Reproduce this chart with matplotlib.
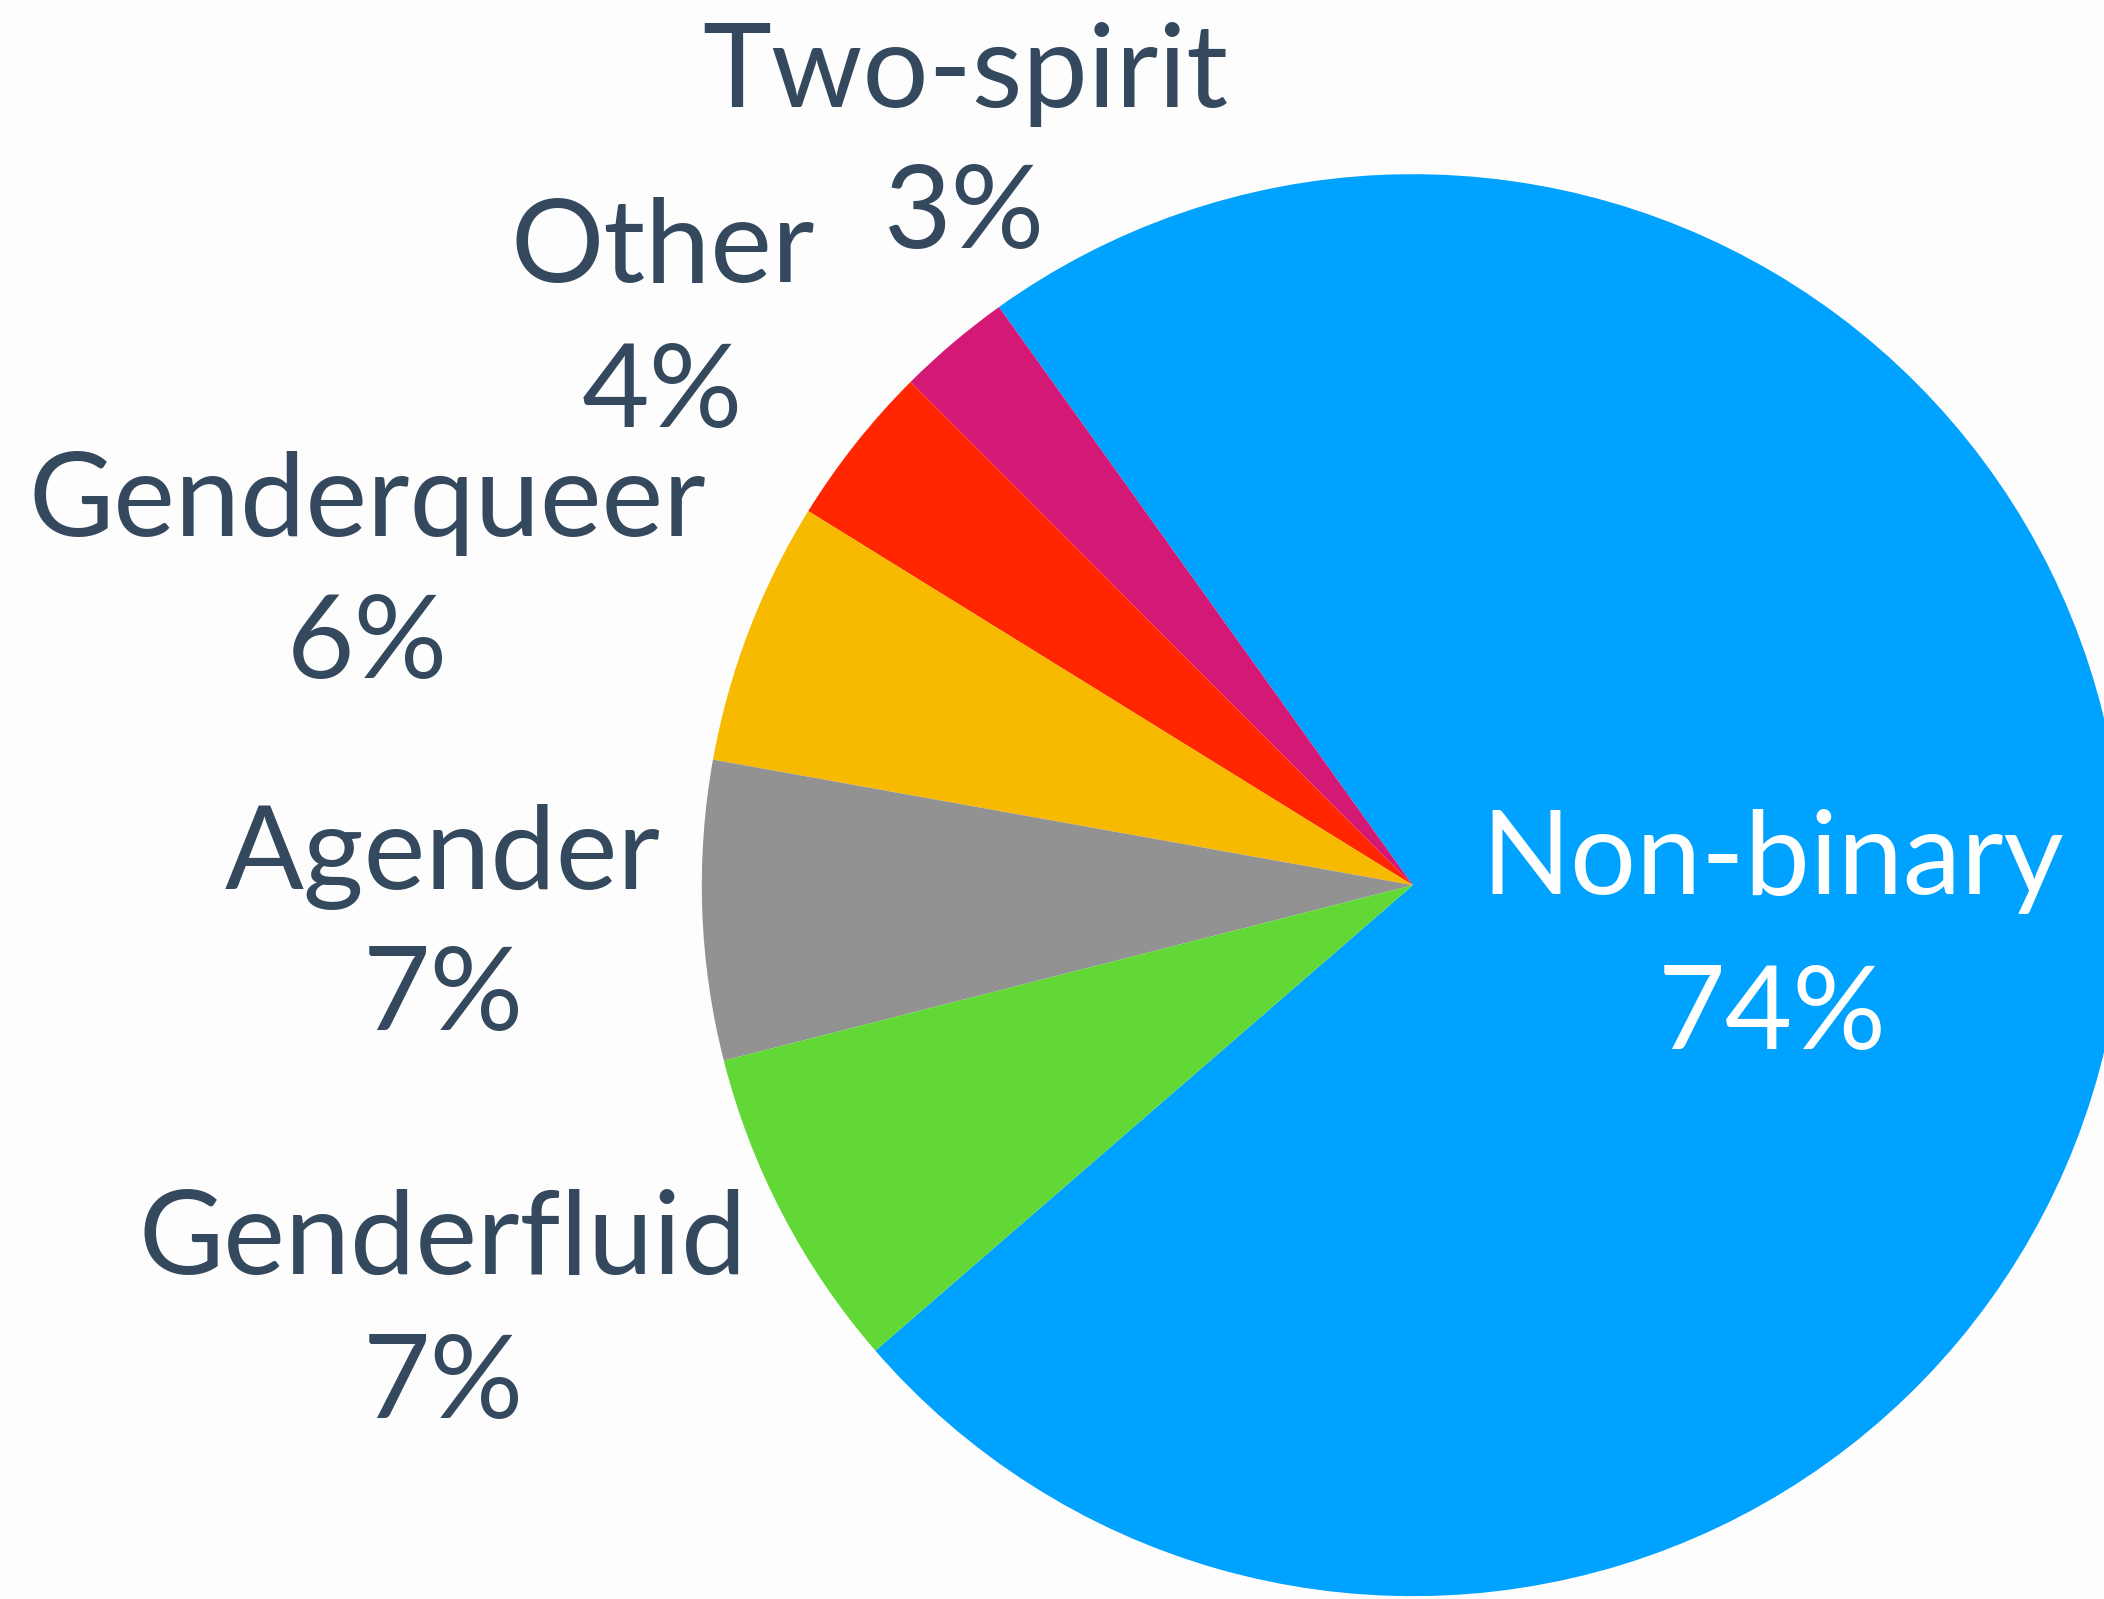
import matplotlib
matplotlib.use("Agg")
import matplotlib.pyplot as plt

# share of respondents by gender identity (percent)
categories = ["Non-binary", "Two-spirit", "Other", "Genderqueer", "Agender", "Genderfluid"]
values = [73.6, 2.6, 3.7, 6.0, 6.8, 7.4]
colors = ["#00a2ff", "#d31876", "#ff2600", "#f8ba00", "#929292", "#61d836"]

# where each label goes (name line, then percent line below it)
label_x = [0.506, -0.630, -1.055, -1.470, -1.364, -1.364]
name_y = [-0.013, 1.094, 0.849, 0.491, -0.006, -0.547]
pct_y = [-0.230, 0.896, 0.645, 0.292, -0.204, -0.749]
text_colors = ["white", "#34495e", "#34495e", "#34495e", "#34495e", "#34495e"]

plt.rcParams['font.family'] = ['Lato', 'DejaVu Sans']

fig = plt.figure(figsize=(21.04, 15.99), dpi=100)
fig.patch.set_facecolor("#fdfdfd")
ax = fig.add_axes([0, 0, 1, 1])
ax.set_facecolor("#fdfdfd")

ax.pie(values, colors=colors, startangle=220.9, counterclock=True,
       radius=1.0, wedgeprops=dict(linewidth=0))

for i, name in enumerate(categories):
    ax.text(label_x[i], name_y[i], name, ha="center", va="baseline",
            fontsize=84, color=text_colors[i])
    ax.text(label_x[i], pct_y[i], f"{values[i]:.0f}%", ha="center", va="baseline",
            fontsize=84, color=text_colors[i])

ax.set_xlim(-1.987, 0.972)
ax.set_ylim(-1.004, 1.245)
ax.set_aspect("auto")
ax.axis("off")

fig.savefig("out.png", dpi=100, facecolor=fig.get_facecolor())
